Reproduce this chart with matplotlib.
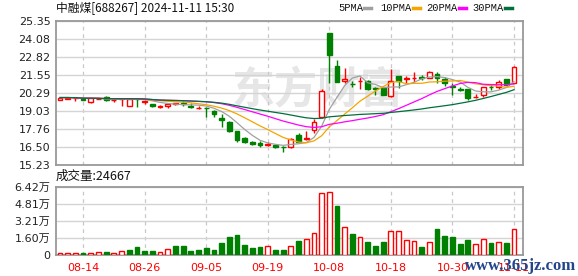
import numpy as np
import pandas as pd
import matplotlib
matplotlib.use('Agg')
import matplotlib.pyplot as plt

# daily bars, 2024-08-09 .. 2024-11-11
dates = ['08-09', '08-12', '08-13', '08-14', '08-15', '08-16', '08-19', '08-20', '08-21', '08-22',
         '08-23', '08-26', '08-27', '08-28', '08-29', '08-30', '09-02', '09-03', '09-04', '09-05',
         '09-06', '09-09', '09-10', '09-11', '09-12', '09-13', '09-18', '09-19', '09-20', '09-23',
         '09-24', '09-25', '09-26', '09-27', '09-30', '10-08', '10-09', '10-10', '10-11', '10-14',
         '10-15', '10-16', '10-17', '10-18', '10-21', '10-22', '10-23', '10-24', '10-25', '10-28',
         '10-29', '10-30', '10-31', '11-01', '11-04', '11-05', '11-06', '11-07', '11-08', '11-11']
opens = [19.84, 19.90, 19.93, 19.90, 19.65, 19.87, 20.03, 19.80, 19.88, 19.39,
         19.89, 19.69, 19.53, 19.33, 19.39, 19.56, 19.63, 19.37, 19.22, 19.27,
         19.04, 18.57, 18.24, 17.63, 17.12, 16.87, 16.76, 16.65, 16.64, 16.53,
         16.48, 17.35, 17.08, 17.70, 18.60, 24.56, 22.21, 21.16, 20.96, 21.14,
         21.16, 20.62, 20.64, 20.12, 21.51, 21.30, 21.36, 21.43, 21.39, 21.65,
         21.32, 20.80, 20.57, 20.57, 20.00, 20.17, 20.74, 20.71, 21.28, 21.04]
highs = [20.00, 20.00, 19.97, 19.95, 19.95, 19.92, 20.12, 19.86, 19.93, 19.92,
         19.91, 19.82, 19.56, 19.46, 19.56, 19.62, 19.73, 19.58, 19.39, 19.30,
         19.11, 18.81, 18.30, 17.65, 17.18, 16.95, 16.90, 16.83, 16.66, 16.56,
         17.10, 17.51, 17.60, 18.48, 20.57, 24.56, 22.59, 22.05, 21.18, 21.42,
         21.20, 20.71, 20.66, 22.00, 21.53, 21.53, 21.81, 21.58, 21.88, 21.81,
         21.46, 20.99, 20.70, 20.60, 20.24, 20.75, 20.94, 21.25, 21.30, 22.23]
lows = [19.82, 19.88, 19.75, 19.78, 19.62, 19.85, 19.76, 19.65, 19.41, 19.37,
        19.34, 19.51, 19.30, 19.23, 19.27, 19.43, 19.38, 19.27, 19.20, 18.60,
        18.64, 17.93, 17.55, 16.88, 16.78, 16.62, 16.50, 16.57, 16.46, 16.15,
        16.42, 16.85, 17.00, 17.49, 18.55, 21.04, 21.11, 20.99, 20.71, 20.57,
        20.52, 20.17, 20.15, 20.05, 20.64, 20.99, 21.11, 21.23, 21.37, 20.99,
        20.80, 20.17, 20.42, 19.82, 19.94, 20.03, 20.52, 20.59, 20.84, 21.00]
closes = [19.98, 19.98, 19.95, 19.83, 19.93, 19.90, 19.79, 19.83, 19.90, 19.89,
          19.85, 19.71, 19.39, 19.35, 19.53, 19.59, 19.53, 19.33, 19.24, 19.23,
          18.81, 18.38, 17.65, 16.99, 16.83, 16.73, 16.64, 16.73, 16.49, 16.48,
          17.05, 16.88, 17.13, 18.29, 20.47, 22.99, 21.11, 21.30, 20.92, 21.16,
          20.57, 20.55, 20.17, 21.16, 21.18, 21.37, 21.39, 21.37, 21.81, 21.35,
          20.99, 20.71, 20.52, 19.94, 20.05, 20.71, 20.69, 21.11, 20.87, 22.16]
volumes = [1900, 1900, 1900, 2200, 2200, 2800, 3100, 2200, 3800, 5000,
           7500, 3800, 3800, 2800, 5300, 8500, 8500, 4100, 4700, 6600,
           4700, 11600, 16900, 18800, 9400, 6600, 7500, 8500, 4700, 4700,
           8460, 13160, 14730, 20360, 57970, 59530, 46060, 26000, 19740, 16600,
           12220, 8460, 12220, 22240, 22240, 13780, 12840, 7520, 11900, 24440,
           17860, 16600, 10340, 13780, 10030, 14730, 11600, 12220, 11600, 24667]
vol_up = [1, 1, 1, 0, 1, 1, 0, 1, 1, 0,
          0, 0, 0, 1, 1, 0, 0, 0, 0, 0,
          0, 0, 0, 0, 0, 0, 0, 1, 0, 0,
          1, 0, 1, 1, 1, 1, 0, 1, 0, 1,
          0, 0, 0, 1, 1, 1, 1, 0, 1, 0,
          0, 0, 0, 0, 1, 1, 0, 1, 0, 1]

tick_dates = ['08-14', '08-26', '09-05', '09-19', '10-08', '10-18', '10-30', '11-11']
price_ticks = [15.23, 16.50, 17.76, 19.03, 20.29, 21.55, 22.82, 24.08, 25.35]
vol_ticks = [0, 16000, 32100, 48100, 64200]
vol_tick_labels = ['0', '1.60万', '3.21万', '4.81万', '6.42万']
ma_windows = [5, 10, 20, 30]
ma_colors = ['#a0a0a0', '#f5a400', '#ff00ff', '#006f3c']

RED = '#ff0000'
GREEN = '#008000'
GRID = '#d4d4d4'
FRAME = '#999999'
cjk = ['DejaVu Sans', 'Noto Sans CJK SC']

o = np.array(opens); h = np.array(highs); l = np.array(lows); c = np.array(closes)
x = np.arange(len(dates))
up = c >= o
col = np.where(up, RED, GREEN)
lo_b = np.minimum(o, c)
hi_b = np.maximum(o, c)

fig = plt.figure(figsize=(5.78, 2.76), dpi=100)
ax = fig.add_axes([56 / 578, 1 - 165 / 276, 467 / 578, 143.7 / 276])
axv = fig.add_axes([56 / 578, 1 - 255 / 276, 467 / 578, 68.3 / 276])

tick_idx = [dates.index(d) for d in tick_dates]

for a in (ax, axv):
    a.set_xlim(-0.52, 60.17)
    a.set_xticks(tick_idx)
    a.tick_params(length=0, labelsize=8, colors='#222222', pad=4)
    a.grid(axis='y', color=GRID, lw=1)
    a.grid(axis='x', color='#c8c8c8', lw=0.9, ls=(0, (3, 3)))
    a.set_axisbelow(True)
    for s in a.spines.values():
        s.set_color(FRAME)
        s.set_linewidth(1.3)

# watermark
ax.text(0.56, 0.52, '东方财富', transform=ax.transAxes, fontsize=31, fontweight='bold',
        color='#e6e6e6', ha='center', va='center', family='Noto Sans CJK SC', zorder=0)

# candles
ax.vlines(x, l, lo_b, color=col, lw=1, zorder=3)
ax.vlines(x, hi_b, h, color=col, lw=1, zorder=3)
ax.bar(x, np.maximum(hi_b - lo_b, 0.015), bottom=lo_b, width=0.62,
       facecolor=np.where(up, 'white', GREEN), edgecolor=col, lw=1, zorder=4)

# moving averages
cs = pd.Series(closes)
for n, mc in zip(ma_windows, ma_colors):
    ax.plot(x, cs.rolling(n, min_periods=1).mean(), color=mc, lw=0.9, zorder=5)

ax.set_ylim(15.23, 25.35)
ax.set_yticks(price_ticks)
ax.set_yticklabels(['%.2f' % v for v in price_ticks])
ax.set_xticklabels([])

# volume
vcol = [RED if u else GREEN for u in vol_up]
axv.bar(x, volumes, width=0.62, facecolor=[('white' if u else GREEN) for u in vol_up],
        edgecolor=vcol, lw=1, zorder=3)
axv.set_ylim(0, 64200)
axv.set_yticks(vol_ticks)
axv.set_yticklabels(vol_tick_labels, family=cjk)
axv.set_xticklabels(tick_dates, color=RED, fontsize=8)
axv.tick_params(axis='x', pad=6)

# header texts
fig.text(56 / 578, 1 - 8 / 276, '中融煤[688267] 2024-11-11 15:30', family='Noto Sans CJK SC',
         fontsize=8.5, va='center', ha='left', color='#111111')
fig.text(56 / 578, 1 - 176 / 276, '成交量:24667', family='Noto Sans CJK SC',
         fontsize=9, va='center', ha='left', color='#111111')

leg_x = [338, 380, 426, 472]
for n, mc, lx in zip(ma_windows, ma_colors, leg_x):
    t = '%dPMA' % n
    fig.text(lx / 578, 1 - 8 / 276, t, family='Liberation Mono', fontsize=7.5,
             va='center', ha='left', color='#111111')
    dx = lx + 6.1 * len(t) + 2
    fig.add_artist(plt.Line2D([dx / 578, (dx + 7) / 578], [1 - 8 / 276, 1 - 8 / 276],
                              color=mc, lw=2.5))

# site watermark, overlaps the last date labels as in the source image
fig.text(1 - 2 / 578, 1 - 266 / 276, 'www.365jz.com', family='Liberation Serif',
         fontweight='bold', fontsize=12, color='#23468a', ha='right', va='center')

fig.savefig('out.png', dpi=100)
